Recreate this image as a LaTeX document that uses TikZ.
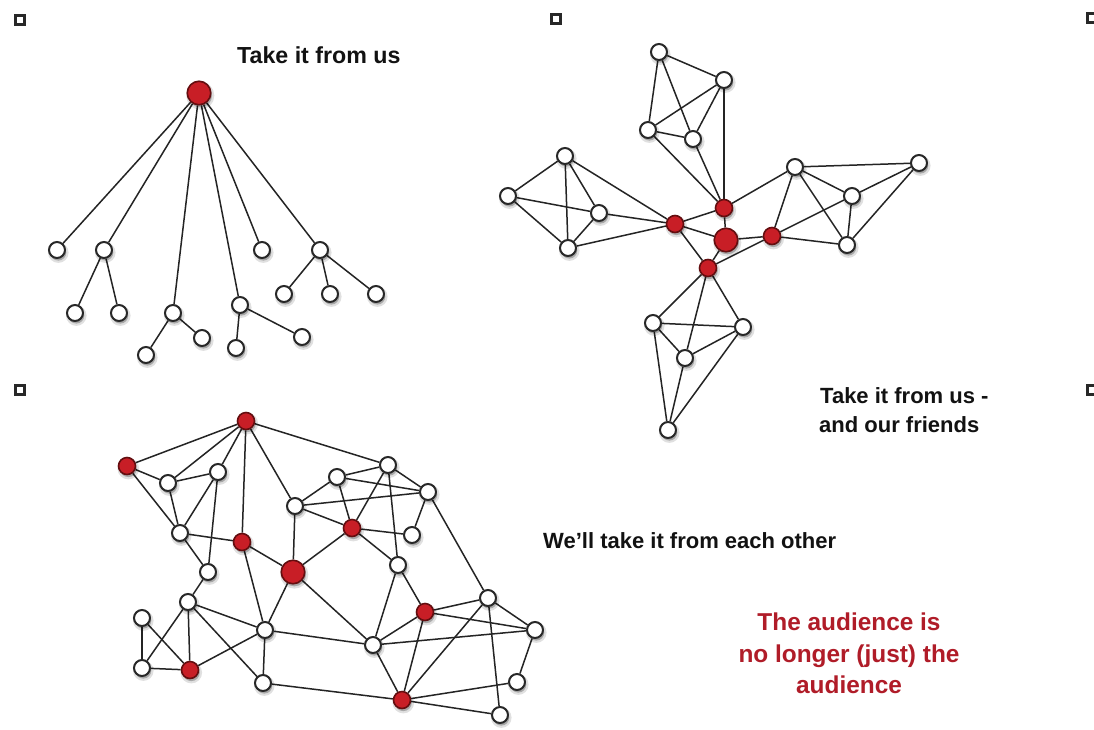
\documentclass[tikz,border=0pt]{standalone}
\usepackage{fontspec}
\setmainfont{Liberation Sans}
\definecolor{nodered}{RGB}{200,30,38}
\definecolor{redrim}{RGB}{100,14,16}
\definecolor{rim}{RGB}{40,40,40}
\definecolor{linkgray}{RGB}{36,36,36}
\definecolor{captionred}{RGB}{176,28,40}
\definecolor{inkblack}{RGB}{18,18,18}
\pgfdeclarelayer{edges}
\pgfdeclarelayer{paper}
\pgfsetlayers{paper,edges,main}

\begin{document}
\begin{tikzpicture}[x=1pt,y=-1pt,
  % soft offset shadow under each node, built from two translucent passes
  softshadow/.style={
      preaction={draw=black, draw opacity=0.12, line width=4.5pt,
          transform canvas={shift={(1.3pt,-2.6pt)}}},
      preaction={fill=black, fill opacity=0.25,
          transform canvas={shift={(1.3pt,-2.6pt)}}}},
  wn/.style={circle, draw=rim, line width=2pt, fill=white,
      minimum size=16pt, inner sep=0pt, softshadow},
  rn/.style={circle, draw=redrim, line width=1.6pt, fill=nodered,
      minimum size=17pt, inner sep=0pt, softshadow},
  rbig/.style={rn, minimum size=23.5pt},
  link/.style={draw=linkgray, line width=1.5pt},
  marker/.style={rectangle, draw=rim, line width=2.2pt, fill=white,
      minimum size=9pt, inner sep=0pt},
  caption/.style={anchor=base west, inner sep=0pt, text=inkblack,
      font=\bfseries\fontsize{22}{26}\selectfont},
  redcap/.style={anchor=base, inner sep=0pt, text=captionred,
      font=\bfseries\fontsize{24.4}{30}\selectfont}]

\begin{pgfonlayer}{paper}
  \fill[white] (0,0) rectangle (1094,729);
\end{pgfonlayer}
\useasboundingbox (0,0) rectangle (1094,729);

% small corner markers
\node[marker] (sq1) at (20,20) {};
\node[marker] (sq2) at (556,19) {};
\node[marker] (sq3) at (1092,18) {};
\node[marker] (sq4) at (20,390) {};
\node[marker] (sq5) at (1092,390) {};

% ---------- broadcast tree ----------
\node[rbig] (root) at (199,93) {};
\node[wn] (t1) at (57,250) {};
\node[wn] (t2) at (104,250) {};
\node[wn] (t3) at (262,250) {};
\node[wn] (t4) at (320,250) {};
\node[wn] (t5) at (173,313) {};
\node[wn] (t6) at (240,305) {};
\node[wn] (t21) at (75,313) {};
\node[wn] (t22) at (119,313) {};
\node[wn] (t51) at (146,355) {};
\node[wn] (t52) at (202,338) {};
\node[wn] (t61) at (236,348) {};
\node[wn] (t62) at (302,337) {};
\node[wn] (t41) at (284,294) {};
\node[wn] (t42) at (330,294) {};
\node[wn] (t43) at (376,294) {};

\begin{pgfonlayer}{edges}
  \foreach \u/\v in {root/t1, root/t2, root/t3, root/t4, root/t5, root/t6,
      t2/t21, t2/t22, t5/t51, t5/t52, t6/t61, t6/t62, t4/t41, t4/t42, t4/t43}
    \draw[link] (\u) -- (\v);
\end{pgfonlayer}

\node[caption, font=\bfseries\fontsize{23.2}{27}\selectfont] (cap1) at (237,63) {Take it from us};

% ---------- hub with four clusters ----------
\node[wn] (fA) at (659,52) {};
\node[wn] (fB) at (724,80) {};
\node[wn] (fC) at (648,130) {};
\node[wn] (fD) at (693,139) {};
\node[wn] (fE) at (565,156) {};
\node[wn] (fF) at (508,196) {};
\node[wn] (fG) at (599,213) {};
\node[wn] (fH) at (568,248) {};
\node[wn] (fI) at (795,167) {};
\node[wn] (fJ) at (919,163) {};
\node[wn] (fK) at (852,196) {};
\node[wn] (fL) at (847,245) {};
\node[wn] (fM) at (653,323) {};
\node[wn] (fN) at (743,327) {};
\node[wn] (fO) at (685,358) {};
\node[wn] (fP) at (668,430) {};
\node[rn] (fR1) at (675,224) {};
\node[rn] (fR2) at (724,208) {};
\node[rbig] (fR0) at (726,240) {};
\node[rn] (fR3) at (772,236) {};
\node[rn] (fR4) at (708,268) {};

\begin{pgfonlayer}{edges}
  \foreach \u/\v in {fA/fB, fA/fC, fA/fD, fB/fC, fB/fD, fC/fD, fB/fR2, fC/fR2, fD/fR2,
      fE/fF, fE/fG, fE/fH, fF/fG, fF/fH, fG/fH, fE/fR1, fG/fR1, fH/fR1,
      fI/fJ, fI/fK, fI/fL, fJ/fK, fJ/fL, fK/fL, fI/fR2, fI/fR3, fK/fR3, fL/fR3,
      fM/fN, fM/fO, fN/fO, fM/fP, fN/fP, fO/fP, fR4/fM, fR4/fN, fR4/fO,
      fR1/fR2, fR1/fR0, fR1/fR4, fR2/fR0, fR0/fR3, fR0/fR4, fR4/fR3}
    \draw[link] (\u) -- (\v);
\end{pgfonlayer}

\node[caption] (cap2a) at (820,403) {Take it from us -};
\node[caption] (cap2b) at (819,432) {and our friends};

% ---------- peer mesh ----------
\node[rn] (nT) at (246,421) {};
\node[rn] (nRL) at (127,466) {};
\node[wn] (na) at (168,483) {};
\node[wn] (nb) at (218,472) {};
\node[wn] (nc) at (180,533) {};
\node[rn] (nr1) at (242,542) {};
\node[wn] (nd) at (295,506) {};
\node[rbig] (nR) at (293,572) {};
\node[wn] (ne) at (208,572) {};
\node[wn] (nf) at (188,602) {};
\node[wn] (ng) at (142,618) {};
\node[wn] (nh) at (142,668) {};
\node[rn] (nr2) at (190,670) {};
\node[wn] (ni) at (265,630) {};
\node[wn] (nj) at (263,683) {};
\node[wn] (nk) at (388,465) {};
\node[wn] (nl) at (337,477) {};
\node[wn] (nm) at (428,492) {};
\node[rn] (nr3) at (352,528) {};
\node[wn] (nn) at (412,535) {};
\node[wn] (no) at (398,565) {};
\node[rn] (nr4) at (425,612) {};
\node[wn] (np) at (488,598) {};
\node[wn] (nq) at (535,630) {};
\node[wn] (ns) at (373,645) {};
\node[wn] (nt) at (517,682) {};
\node[rn] (nr5) at (402,700) {};
\node[wn] (nu) at (500,715) {};

\begin{pgfonlayer}{edges}
  \foreach \u/\v in {nT/nRL, nT/na, nT/nb, nT/nr1, nT/nd, nT/nk,
      nRL/na, nRL/nc, na/nb, na/nc, nb/nc, nb/ne, nc/nr1, nc/ne, ne/nf,
      nr1/nR, nr1/ni, nd/nR, nd/nl, nd/nm, nd/nr3, nl/nk, nl/nm, nl/nr3,
      nk/nm, nk/nr3, nk/no, nr3/nn, nr3/no, nr3/nR, nm/nn, nm/np,
      nR/ni, nR/ns, nf/ni, nf/nh, nf/nr2, nf/nj, ng/nh, ng/nr2, nh/nr2,
      nr2/ni, ni/nj, ni/ns, nj/nr5,
      no/ns, no/nr4, ns/nr4, ns/nq, ns/nr5, nr4/nr5, nr4/np, nr4/nq,
      nr5/np, nr5/nt, nr5/nu, np/nq, np/nu, nq/nt}
    \draw[link] (\u) -- (\v);
\end{pgfonlayer}

\node[caption] (cap3) at (543,548) {We'll take it from each other};

\node[redcap] (red1) at (849,630) {The audience is};
\node[redcap] (red2) at (849,662) {no longer (just) the};
\node[redcap] (red3) at (849,693) {audience};

\end{tikzpicture}
\end{document}
